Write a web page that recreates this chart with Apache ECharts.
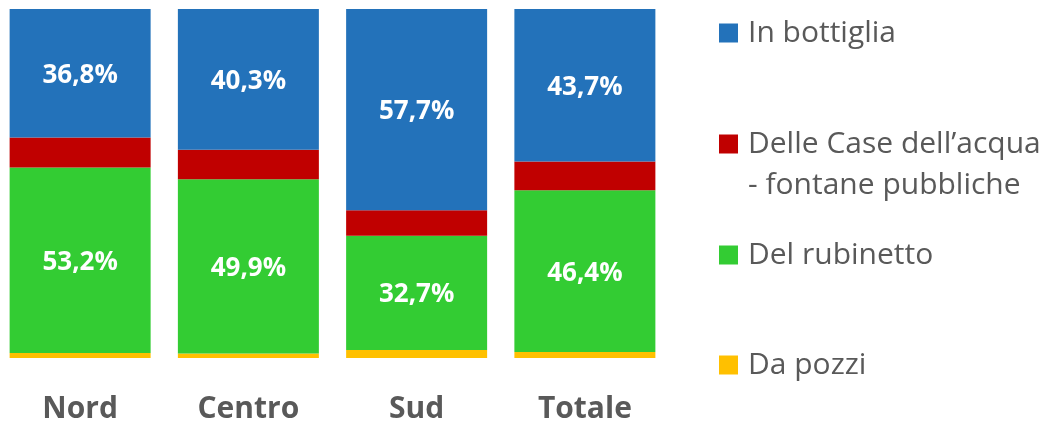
<!DOCTYPE html>
<html>
<head>
<meta charset="utf-8">
<script src="https://cdn.jsdelivr.net/npm/echarts@6/dist/echarts.min.js"></script>
<style>
html,body{margin:0;padding:0;background:#fff;overflow:hidden;}
#c{width:1049px;height:424px;margin-left:-4px;}
</style>
</head>
<body>
<div id="c"></div>
<script>
const categories = ['Nord', 'Centro', 'Sud', 'Totale'];
const daPozzi = [1.4, 1.3, 2.3, 1.7];
const delRubinetto = [53.2, 49.9, 32.7, 46.4];
const caseAcqua = [8.6, 8.5, 7.3, 8.2];
const inBottiglia = [36.8, 40.3, 57.7, 43.7];

const seriesNames = ['Da pozzi', 'Del rubinetto', 'Delle Case dell’acqua - fontane pubbliche', 'In bottiglia'];
const colors = ['#FFC000', '#33CC33', '#C00000', '#2372BA'];

const FONT = '"Open Sans", sans-serif';
const OFF = 4; // container shifted left by this many px
const fmt = p => p.value.toFixed(1).replace('.', ',') + '%';

function mkSeries(name, data, color, showLabel) {
  return {
    name: name, type: 'bar', stack: 'total', data: data,
    barWidth: 141,
    itemStyle: { color: color },
    label: {
      show: showLabel, position: 'inside', formatter: fmt, offset: [0, 2],
      color: '#fff', fontWeight: 'bold', fontSize: 26, fontFamily: FONT
    },
    emphasis: { disabled: true }
  };
}

const legendBase = {
  left: 719 + OFF, orient: 'vertical', padding: 0,
  itemWidth: 19, itemHeight: 19, itemGap: 0, itemStyle: {borderWidth: 0},
  icon: 'rect', selectedMode: false,
  textStyle: { color: '#595959', fontSize: 30, fontFamily: FONT, lineHeight: 41, padding: [0, 0, 0, 5] }
};

const option = {
  animation: false,
  grid: { left: 0, top: 9, width: 673, height: 356, containLabel: false },
  xAxis: {
    type: 'category', data: categories,
    axisLine: { show: false }, axisTick: { show: false },
    axisLabel: { color: '#595959', fontSize: 30, fontWeight: 'bold', fontFamily: FONT, margin: 36 }
  },
  yAxis: { type: 'value', min: 0, max: 100, show: false, splitLine: { show: false } },
  legend: [
    Object.assign({}, legendBase, { top: 33 - 20.5, data: [seriesNames[3]] }),
    Object.assign({}, legendBase, { top: 144 - 61.5, data: [seriesNames[2]],
      formatter: () => '\nDelle Case dell’acqua\n- fontane pubbliche' }),
    Object.assign({}, legendBase, { top: 255 - 20.5, data: [seriesNames[1]] }),
    Object.assign({}, legendBase, { top: 365 - 20.5, data: [seriesNames[0]] })
  ],
  series: [
    mkSeries(seriesNames[0], daPozzi, colors[0], false),
    mkSeries(seriesNames[1], delRubinetto, colors[1], true),
    mkSeries(seriesNames[2], caseAcqua, colors[2], false),
    mkSeries(seriesNames[3], inBottiglia, colors[3], true)
  ]
};

const chart = echarts.init(document.getElementById('c'), null, { renderer: 'canvas' });
chart.setOption(option);
</script>
</body>
</html>
